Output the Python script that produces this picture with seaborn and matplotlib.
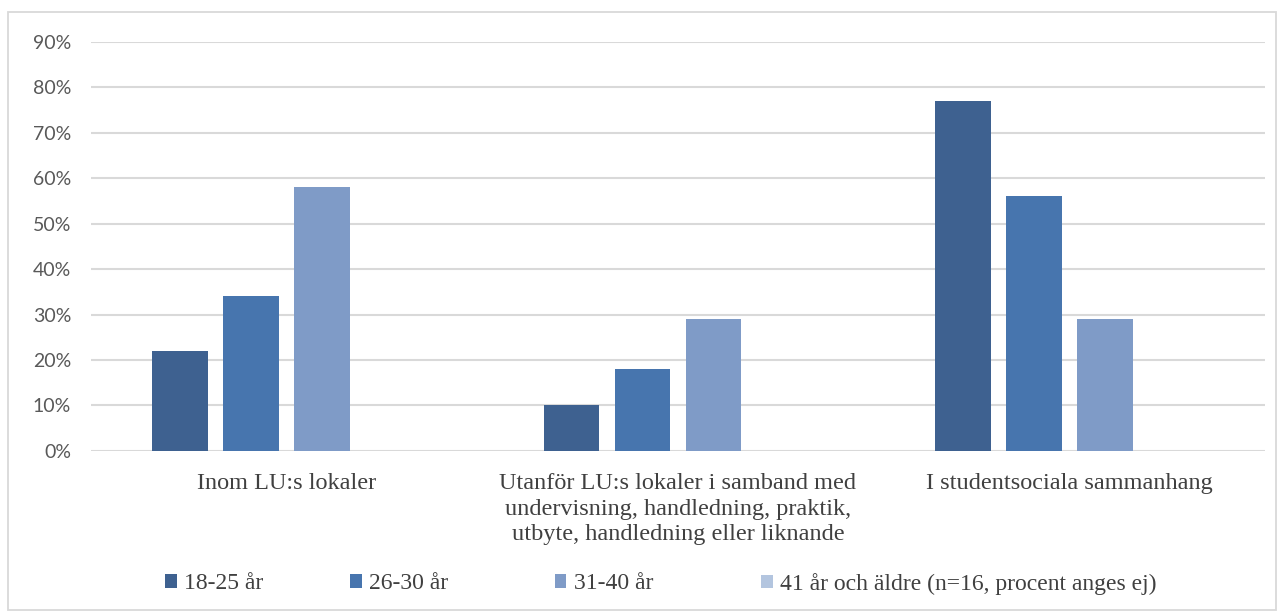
import numpy as np
import pandas as pd
import matplotlib
matplotlib.use("Agg")
import matplotlib.pyplot as plt
from matplotlib.patches import Patch, Rectangle
from matplotlib.ticker import PercentFormatter
import seaborn as sns

categories = [
    "Inom LU:s lokaler",
    "Utanför LU:s lokaler i samband med\nundervisning, handledning, praktik,\nutbyte, handledning eller liknande",
    "I studentsociala sammanhang",
]
series = ["18-25 år", "26-30 år", "31-40 år", "41 år och äldre (n=16, procent anges ej)"]
v_18_25 = [0.22, 0.10, 0.77]
v_26_30 = [0.34, 0.18, 0.56]
v_31_40 = [0.58, 0.29, 0.29]
v_41 = [np.nan, np.nan, np.nan]
colors = ["#3E6190", "#4775AE", "#7F9BC7", "#B3C5DF"]

rows = []
for s, vals in zip(series, [v_18_25, v_26_30, v_31_40, v_41]):
    for c, v in zip(categories, vals):
        rows.append({"cat": c, "series": s, "value": v})
df = pd.DataFrame(rows)

sns.set_theme(style="white")
plt.rcParams["font.family"] = ["Liberation Serif", "DejaVu Serif"]

fig = plt.figure(figsize=(12.84, 6.16), dpi=100)
ax = fig.add_axes([0.0705, 0.268, 0.915, 0.664])

sns.barplot(data=df, x="cat", y="value", hue="series", order=categories,
            hue_order=series, palette=colors, width=0.725, gap=0.22,
            errorbar=None, ax=ax, legend=False, saturation=1, edgecolor="none")

ax.set_ylim(0, 0.9)
ax.set_yticks(np.arange(0, 0.91, 0.1))
ax.yaxis.set_major_formatter(PercentFormatter(1.0, decimals=0))
ax.grid(axis="y", color="#D9D9D9", linewidth=1.5)
ax.set_axisbelow(True)
for sp in ax.spines.values():
    sp.set_visible(False)
ax.set_xlabel("")
ax.set_ylabel("")
ax.tick_params(axis="x", length=0, labelsize=17.5, colors="#404040", pad=16)
ax.tick_params(axis="y", length=0, labelsize=14, colors="#595959", pad=14)
for lbl in ax.get_yticklabels():
    lbl.set_family(["Lato", "DejaVu Sans"])
for lbl in ax.get_xticklabels():
    lbl.set_ha("center")
    lbl.set_multialignment("center")
    lbl.set_linespacing(1.28)

legend_x = [0.1285, 0.2725, 0.432, 0.593]
for c, s, x in zip(colors, series, legend_x):
    fig.legend([Patch(facecolor=c, edgecolor="none")], [s], loc="center left",
               bbox_to_anchor=(x, 0.052), frameon=False, fontsize=17,
               handlelength=0.5, handleheight=0.5, handletextpad=0.3,
               borderpad=0, borderaxespad=0, labelcolor="#404040")

fig.add_artist(Rectangle((0.006, 0.01), 0.988, 0.97, transform=fig.transFigure,
                         fill=False, edgecolor="#D9D9D9", linewidth=1.3))

fig.savefig("out.png", dpi=100)
